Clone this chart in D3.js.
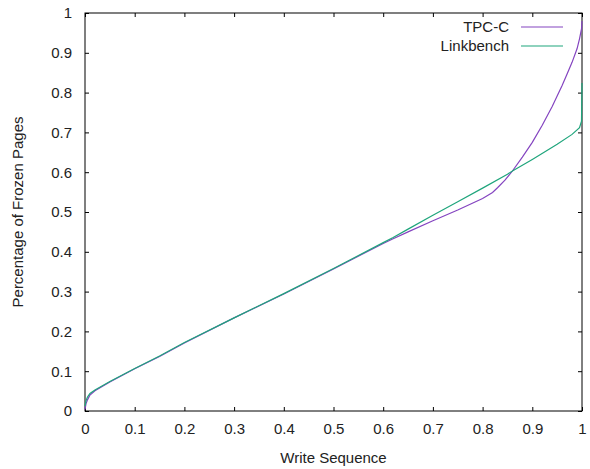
<!DOCTYPE html>
<html>
<head>
<meta charset="utf-8">
<script src="https://cdn.jsdelivr.net/npm/d3@7"></script>
<style>
  html, body { margin: 0; padding: 0; background: #fff; }
  svg { display: block; font-family: "Liberation Sans", Arial, sans-serif; }
</style>
</head>
<body>
<svg id="chart" width="590" height="469"></svg>
<script>
// Fraction of the write sequence (x) against fraction of pages frozen (y)
const tpccX = [0, 0.002, 0.005, 0.01, 0.02, 0.05, 0.1, 0.15, 0.2, 0.3, 0.4, 0.5, 0.6,
  0.62, 0.65, 0.7, 0.75, 0.8, 0.82, 0.83, 0.845, 0.86, 0.88, 0.9, 0.92, 0.94, 0.96,
  0.97, 0.98, 0.99, 0.995, 0.999, 1.0];
const tpccY = [0.004, 0.018, 0.028, 0.04, 0.051, 0.073, 0.106, 0.137, 0.171, 0.234, 0.294, 0.357, 0.421,
  0.433, 0.450, 0.478, 0.505, 0.534, 0.549, 0.561, 0.580, 0.603, 0.638, 0.675, 0.718, 0.765, 0.818,
  0.847, 0.876, 0.910, 0.935, 0.960, 0.980];

const linkX = [0, 0.002, 0.005, 0.01, 0.02, 0.05, 0.1, 0.15, 0.2, 0.3, 0.4, 0.5, 0.6,
  0.62, 0.65, 0.7, 0.75, 0.8, 0.85, 0.86, 0.9, 0.95, 0.98, 0.995, 0.999, 1.0];
const linkY = [0.012, 0.026, 0.035, 0.044, 0.053, 0.074, 0.107, 0.138, 0.172, 0.234, 0.295, 0.358, 0.423,
  0.436, 0.457, 0.492, 0.526, 0.560, 0.595, 0.603, 0.632, 0.670, 0.695, 0.712, 0.728, 0.824];

const seriesNames = ["TPC-C", "Linkbench"];
const seriesColors = ["#8444c0", "#1fa57c"];

const xTicks = [0, 0.1, 0.2, 0.3, 0.4, 0.5, 0.6, 0.7, 0.8, 0.9, 1];
const yTicks = [0, 0.1, 0.2, 0.3, 0.4, 0.5, 0.6, 0.7, 0.8, 0.9, 1];

const margin = { left: 85, right: 8, top: 13, bottom: 58 };
const W = 590, H = 469;
const fontSize = 15;
const svg = d3.select("#chart");

const x = d3.scaleLinear().domain([0, 1]).range([margin.left, W - margin.right]);
const y = d3.scaleLinear().domain([0, 1]).range([H - margin.bottom, margin.top]);

const fmt = d => (d === 0 || d === 1) ? String(d) : d3.format(".1f")(d);

// Ticks point inward on all four sides
const tickLen = 4;
const axisStyle = g => {
  g.select(".domain").remove();
  g.selectAll(".tick line").attr("stroke", "#000");
  g.selectAll(".tick text").attr("fill", "#222").attr("font-size", fontSize);
};

svg.append("g")
  .attr("transform", `translate(0,${y(0)})`)
  .call(d3.axisBottom(x).tickValues(xTicks).tickFormat(fmt).tickSizeInner(-tickLen).tickPadding(12))
  .call(axisStyle);
svg.append("g")
  .attr("transform", `translate(0,${y(1)})`)
  .call(d3.axisTop(x).tickValues(xTicks).tickFormat("").tickSizeInner(-tickLen))
  .call(axisStyle);
svg.append("g")
  .attr("transform", `translate(${x(0)},0)`)
  .call(d3.axisLeft(y).tickValues(yTicks).tickFormat(fmt).tickSizeInner(-tickLen).tickPadding(13))
  .call(axisStyle);
svg.append("g")
  .attr("transform", `translate(${x(1)},0)`)
  .call(d3.axisRight(y).tickValues(yTicks).tickFormat("").tickSizeInner(-tickLen))
  .call(axisStyle);

// Plot border
svg.append("rect")
  .attr("x", x(0)).attr("y", y(1))
  .attr("width", x(1) - x(0)).attr("height", y(0) - y(1))
  .attr("fill", "none").attr("stroke", "#000").attr("stroke-width", 1);

// Curves
const line = d3.line().x(d => x(d[0])).y(d => y(d[1]));
const series = [
  d3.zip(tpccX, tpccY),
  d3.zip(linkX, linkY)
];
series.forEach((pts, i) => {
  svg.append("path")
    .datum(pts)
    .attr("d", line)
    .attr("fill", "none")
    .attr("stroke", seriesColors[i])
    .attr("stroke-width", 1.2);
});

// Legend
const legend = svg.append("g");
seriesNames.forEach((name, i) => {
  const ly = 27 + i * 19;
  legend.append("text")
    .attr("x", 509).attr("y", ly)
    .attr("dy", "0.35em")
    .attr("text-anchor", "end")
    .attr("font-size", fontSize)
    .attr("fill", "#222")
    .text(name);
  legend.append("line")
    .attr("x1", 521).attr("x2", 563)
    .attr("y1", ly).attr("y2", ly)
    .attr("stroke", seriesColors[i])
    .attr("stroke-width", 1.2);
});

// Axis titles
svg.append("text")
  .attr("x", x(0.5)).attr("y", 463)
  .attr("text-anchor", "middle")
  .attr("font-size", fontSize)
  .attr("fill", "#222")
  .text("Write Sequence");
svg.append("text")
  .attr("transform", `translate(23,${(y(0) + y(1)) / 2}) rotate(-90)`)
  .attr("text-anchor", "middle")
  .attr("font-size", fontSize)
  .attr("fill", "#222")
  .text("Percentage of Frozen Pages");
</script>
</body>
</html>
